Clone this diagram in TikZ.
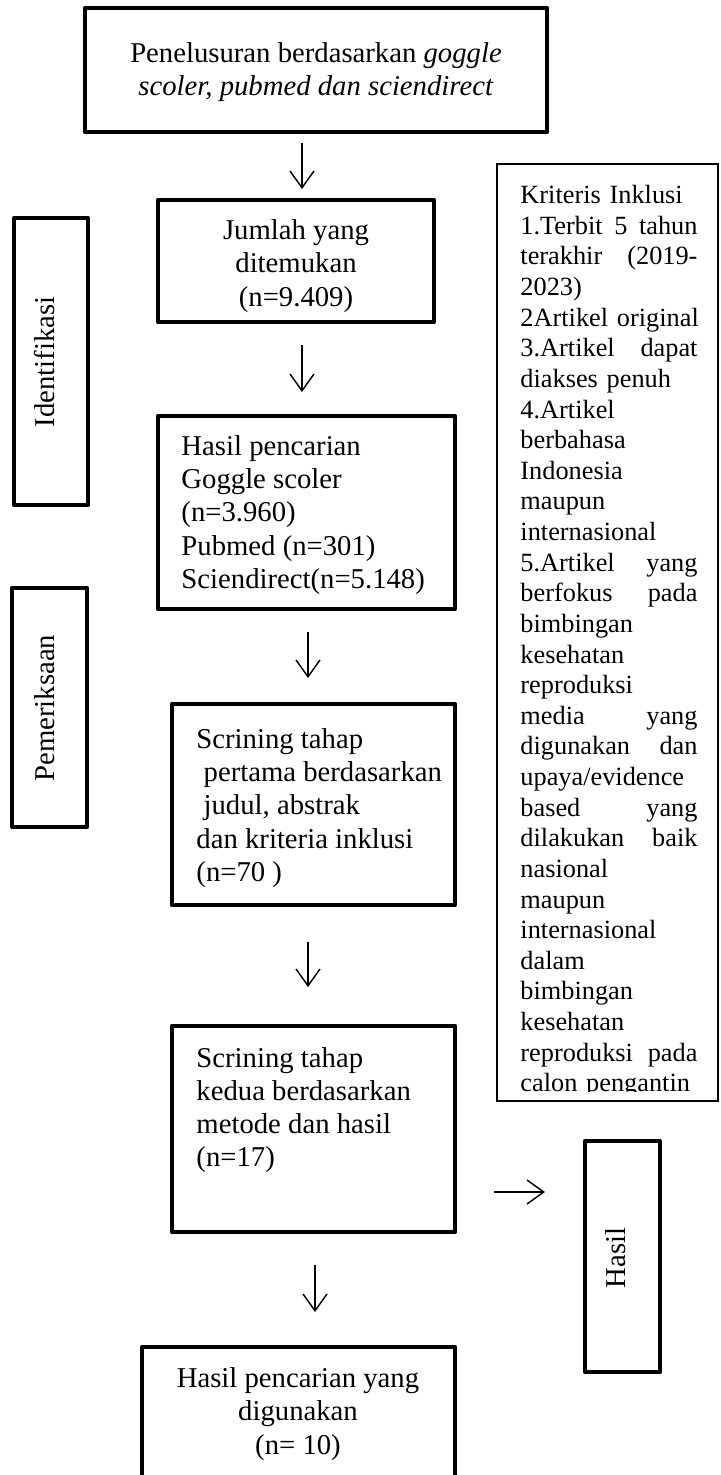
\documentclass[tikz,border=0pt]{standalone}
\usepackage{fontspec}
\setmainfont{Liberation Serif}
\usetikzlibrary{arrows.meta,positioning,fit}

\begin{document}
\begin{tikzpicture}[x=0.418pt,y=-0.418pt,
  box/.style={draw,line width=1.9pt,line join=round,inner sep=0pt},
  thinbox/.style={draw,line width=1pt,inner sep=0pt},
  txt/.style={inner sep=0pt,font=\fontsize{12}{13.9}\selectfont},
  smalltxt/.style={inner sep=0pt,font=\fontsize{11}{12.8}\selectfont,text width=74pt,align=left},
  arr/.style={line width=0.6pt,-{Straight Barb[length=7pt,width=10pt]}}]

\useasboundingbox (0,0) rectangle (720,1475);

% kotak alur
\node[box,fit={(85,8) (547,132)}] (cari) {};
\node[box,fit={(158,200) (434,322)}] (jumlah) {};
\node[box,fit={(158,416) (455,609)}] (hasil) {};
\node[box,fit={(172,704) (455,905)}] (scr1) {};
\node[box,fit={(172,1026) (455,1232)}] (scr2) {};
\node[box,fit={(142,1347) (455,1478)}] (pakai) {};

% kotak samping
\node[box,fit={(14,218) (88,505)}] (idf) {};
\node[box,fit={(12,588) (87,827)}] (prk) {};
\node[box,fit={(585,1141) (660,1372)}] (hsl) {};
\node[thinbox,fit={(497,164) (718,1101)}] (krit) {};

% teks
\node[txt,align=center] (cari-t) at (316,72) {Penelusuran berdasarkan \textit{goggle}\\\textit{scoler, pubmed dan sciendirect}};
\node[txt,align=center] (jumlah-t) at (296,266) {Jumlah yang\\ditemukan\\(n=9.409)};
\node[txt,align=left,anchor=west] (hasil-t) at (181,515) {Hasil pencarian\\Goggle scoler\\(n=3.960)\\Pubmed (n=301)\\Sciendirect(n=5.148)};
\node[txt,align=left,anchor=west] (scr1-t) at (196,808) {Scrining tahap\\\hspace*{3pt}pertama berdasarkan\\\hspace*{3pt}judul, abstrak\\dan kriteria inklusi\\(n=70 )};
\node[txt,align=left,anchor=west] (scr2-t) at (196,1110) {Scrining tahap\\kedua berdasarkan\\metode dan hasil\\(n=17)};
\node[txt,align=center] (pakai-t) at (298,1414) {Hasil pencarian yang\\digunakan\\(n= 10)};

\node[txt,rotate=90] (idf-t) at (45,362) {Identifikasi};
\node[txt,rotate=90] (prk-t) at (45,708) {Pemeriksaan};
\node[txt,rotate=90] (hsl-t) at (616,1258) {Hasil};

\begin{scope}
\clip (497,164) rectangle (718,1091);
\node[smalltxt,anchor=north west] (krit-t) at (520,185) {Kriteris Inklusi\\
1.Terbit\hfill 5\hfill tahun\\
terakhir\hfill (2019-\\
2023)\\
\mbox{2Artikel original}\\
3.Artikel\hfill dapat\\
\mbox{diakses penuh}\\
4.Artikel\\
berbahasa\\
Indonesia\\
maupun\\
\mbox{internasional}\\
5.Artikel\hfill yang\\
berfokus\hfill pada\\
bimbingan\\
kesehatan\\
reproduksi\\
media\hfill yang\\
digunakan\hfill dan\\
\mbox{upaya/evidence}\\
based\hfill yang\\
dilakukan\hfill baik\\
nasional\\
maupun\\
\mbox{internasional}\\
dalam\\
bimbingan\\
kesehatan\\
reproduksi\hfill pada\\
\mbox{calon pengantin}};
\end{scope}

% panah
\coordinate (a1) at (302,143);  \coordinate (b1) at (302,189);
\coordinate (a2) at (302,345);  \coordinate (b2) at (302,392);
\coordinate (a3) at (308,632);  \coordinate (b3) at (308,678);
\coordinate (a4) at (308,942);  \coordinate (b4) at (308,987);
\coordinate (a5) at (494,1192); \coordinate (b5) at (545,1192);
\coordinate (a6) at (315,1265); \coordinate (b6) at (315,1312);

\foreach \i in {1,...,6}
  \draw[arr] (a\i) -- (b\i);

\end{tikzpicture}
\end{document}
